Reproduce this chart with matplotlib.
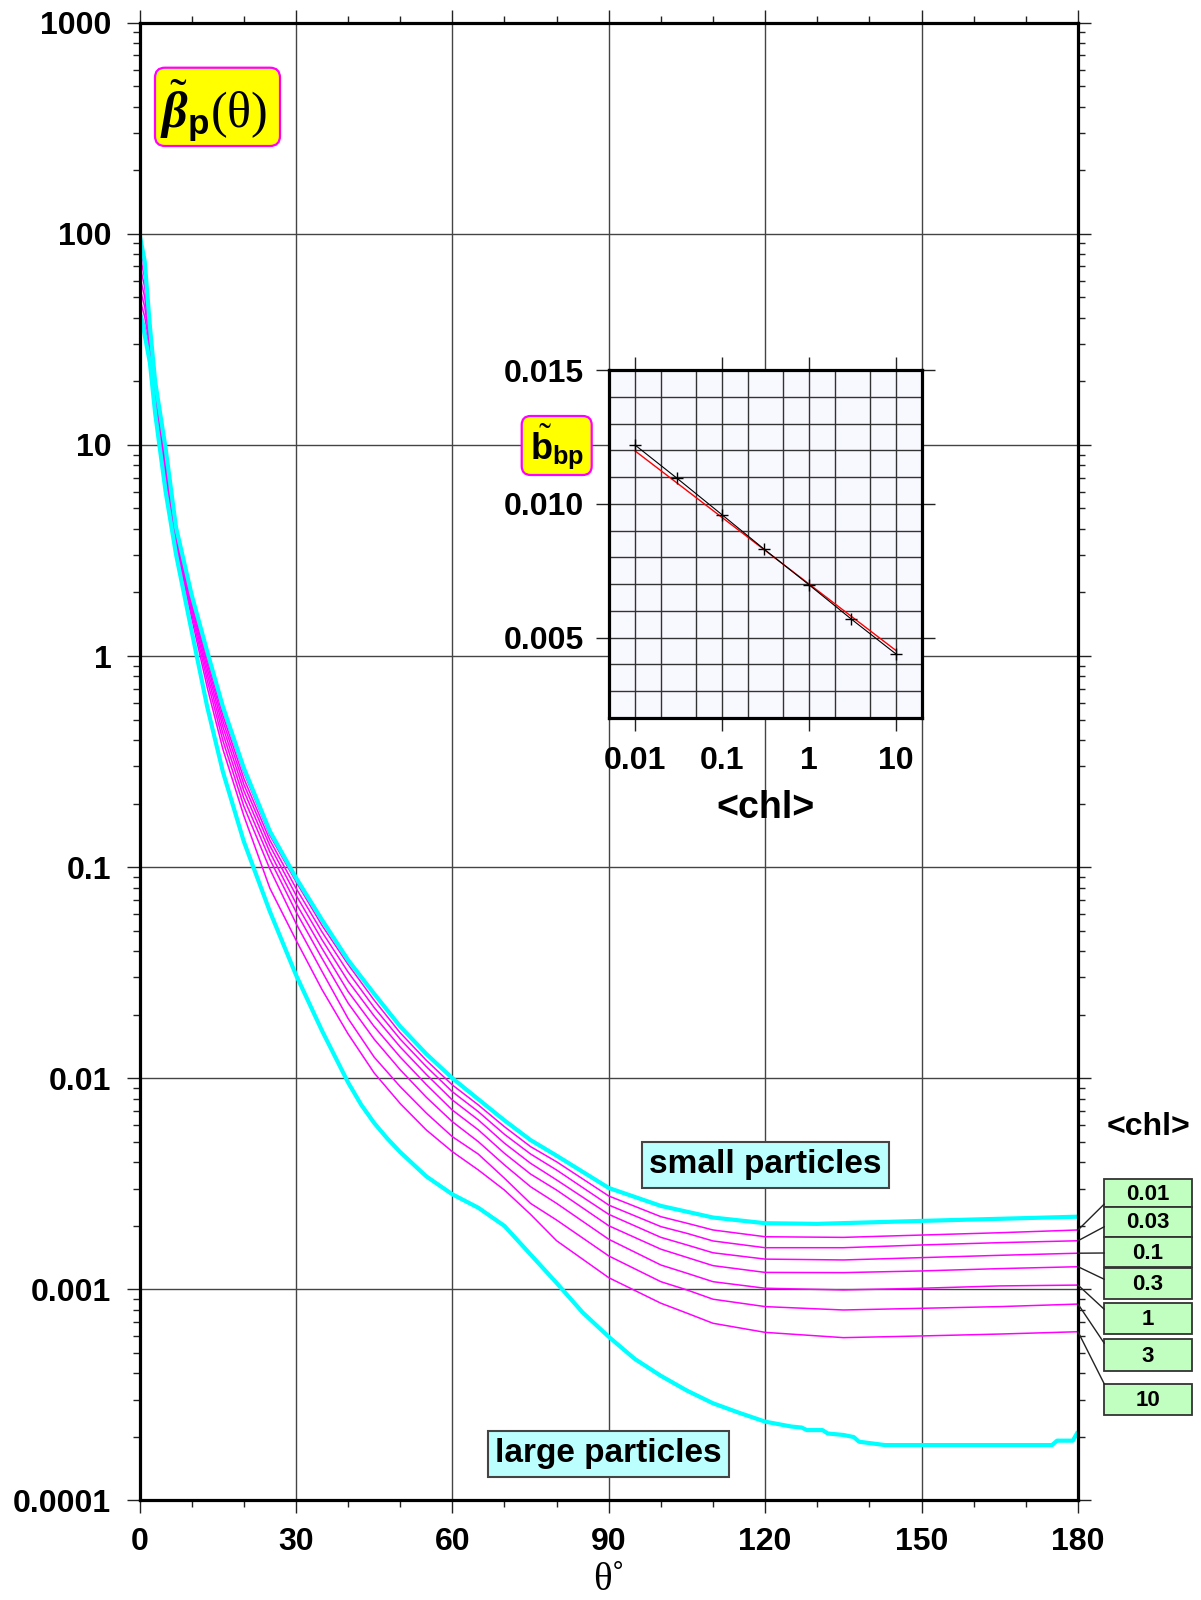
import numpy as np
import matplotlib
matplotlib.use('Agg')
import matplotlib.pyplot as plt
from matplotlib.patches import FancyBboxPatch, Rectangle
from matplotlib.ticker import FixedLocator, FixedFormatter, NullFormatter, LogLocator

plt.rcParams['font.family'] = ['Liberation Sans', 'DejaVu Sans']
plt.rcParams['font.weight'] = 'bold'
plt.rcParams['mathtext.fontset'] = 'custom'
plt.rcParams['mathtext.rm'] = 'Liberation Serif:weight=normal'
plt.rcParams['mathtext.it'] = 'Liberation Serif:italic:bold'
plt.rcParams['mathtext.bf'] = 'Liberation Sans:bold'
SERIF = ['Liberation Serif', 'DejaVu Serif']

# ---------------- data ----------------
# main plot: log10 of the normalized phase function
theta_small = [0, 1, 2, 3, 5, 7, 10, 13, 16, 20, 25, 30, 35, 40, 45, 50, 55, 60,
               65, 70, 75, 80, 90, 100, 110, 120, 130, 150, 165, 180]
log_small = [2.000, 1.870, 1.560, 1.300, 0.985, 0.610, 0.290, 0.020, -0.240, -0.530,
             -0.830, -1.050, -1.250, -1.440, -1.600, -1.755, -1.885, -2.000, -2.100,
             -2.200, -2.293, -2.367, -2.520, -2.605, -2.660, -2.687, -2.690, -2.676,
             -2.666, -2.656]

theta_large = [0, 0.5, 1, 2, 3, 5, 7, 10, 13, 16, 20, 25, 30, 35, 40, 42.5, 45, 47.5,
               50, 55, 60, 65, 70, 75, 80, 85, 90, 95, 100, 105, 110, 115, 120, 125,
               127, 128, 131, 132, 135, 137, 138, 143, 175, 176, 179, 180]
log_large = [1.625, 1.590, 1.520, 1.388, 1.150, 0.780, 0.482, 0.118, -0.242, -0.549,
             -0.878, -1.210, -1.510, -1.775, -2.020, -2.125, -2.212, -2.285, -2.350,
             -2.465, -2.550, -2.614, -2.700, -2.835, -2.970, -3.110, -3.225, -3.330,
             -3.410, -3.480, -3.540, -3.585, -3.627, -3.650, -3.655, -3.667, -3.667,
             -3.683, -3.690, -3.700, -3.722, -3.738, -3.738, -3.717, -3.717, -3.674]

theta_chl = [0, 1, 2, 3, 5, 7, 10, 13, 16, 20, 25, 30, 35, 40, 45, 50, 55, 60, 65, 70,
             75, 80, 90, 100, 105, 110, 120, 135, 150, 165, 180]
chl_labels = ['0.01', '0.03', '0.1', '0.3', '1', '3', '10']
log_chl_0_01 = [1.954, 1.834, 1.540, 1.291, 0.973, 0.602, 0.280, 0.004, -0.259, -0.551,
                -0.849, -1.068, -1.276, -1.461, -1.630, -1.785, -1.915, -2.032, -2.127,
                -2.230, -2.324, -2.396, -2.558, -2.656, -2.687, -2.719, -2.751, -2.754,
                -2.743, -2.732, -2.719]
log_chl_0_03 = [1.905, 1.791, 1.528, 1.279, 0.956, 0.592, 0.266, -0.017, -0.283, -0.579,
                -0.872, -1.099, -1.307, -1.497, -1.665, -1.815, -1.945, -2.064, -2.159,
                -2.266, -2.359, -2.435, -2.601, -2.703, -2.735, -2.771, -2.803, -2.803,
                -2.790, -2.779, -2.770]
log_chl_0_1 = [1.856, 1.748, 1.515, 1.267, 0.940, 0.582, 0.253, -0.038, -0.308, -0.607,
               -0.898, -1.132, -1.344, -1.540, -1.705, -1.852, -1.982, -2.103, -2.198,
               -2.308, -2.403, -2.482, -2.645, -2.754, -2.790, -2.827, -2.857, -2.861,
               -2.850, -2.839, -2.829]
log_chl_0_3 = [1.802, 1.701, 1.500, 1.254, 0.921, 0.570, 0.237, -0.061, -0.336, -0.638,
               -0.929, -1.171, -1.385, -1.589, -1.755, -1.900, -2.030, -2.151, -2.245,
               -2.356, -2.454, -2.530, -2.699, -2.810, -2.849, -2.888, -2.920, -2.921,
               -2.913, -2.902, -2.893]
log_chl_1 = [1.749, 1.654, 1.484, 1.239, 0.901, 0.558, 0.220, -0.087, -0.367, -0.673,
             -0.963, -1.211, -1.432, -1.644, -1.815, -1.960, -2.090, -2.206, -2.301,
             -2.411, -2.514, -2.593, -2.763, -2.885, -2.924, -2.964, -2.995, -3.003,
             -2.995, -2.984, -2.980]
log_chl_3 = [1.696, 1.607, 1.467, 1.222, 0.878, 0.543, 0.202, -0.116, -0.401, -0.711,
             -1.009, -1.266, -1.494, -1.717, -1.900, -2.040, -2.165, -2.277, -2.360,
             -2.474, -2.593, -2.672, -2.842, -2.964, -3.003, -3.047, -3.082, -3.098,
             -3.090, -3.082, -3.070]
log_chl_10 = [1.643, 1.560, 1.446, 1.203, 0.852, 0.527, 0.180, -0.150, -0.442, -0.756,
              -1.100, -1.345, -1.580, -1.790, -1.975, -2.120, -2.245, -2.348, -2.435,
              -2.530, -2.645, -2.770, -2.945, -3.066, -3.113, -3.161, -3.204, -3.229,
              -3.221, -3.212, -3.201]
log_chl_curves = [log_chl_0_01, log_chl_0_03, log_chl_0_1, log_chl_0_3,
                  log_chl_1, log_chl_3, log_chl_10]

x_ticks = [0, 30, 60, 90, 120, 150, 180]
x_ticklabels = ['0', '30', '60', '90', '120', '150', '180']
y_ticks = [1e-4, 1e-3, 1e-2, 1e-1, 1, 10, 100, 1000]
y_ticklabels = ['0.0001', '0.001', '0.01', '0.1', '1', '10', '100', '1000']

# inset: backscattering ratio vs chlorophyll
inset_chl = [0.01, 0.03, 0.1, 0.3, 1, 3, 10]
inset_bbp = [0.01220, 0.01097, 0.00959, 0.00832, 0.00697, 0.00571, 0.00438]
fit_chl = [0.01, 10]
fit_bbp = [0.01198, 0.00451]
inset_xticks = [0.01, 0.1, 1, 10]
inset_xticklabels = ['0.01', '0.1', '1', '10']
inset_xgrid = [0.02, 0.05, 0.2, 0.5, 2, 5]
inset_yticks = [0.005, 0.010, 0.015]
inset_yticklabels = ['0.005', '0.010', '0.015']
inset_ygrid = [0.003, 0.004, 0.006, 0.007, 0.008, 0.009, 0.011, 0.012, 0.013, 0.014]

# ---------------- figure ----------------
W, H = 1201, 1600
fig = plt.figure(figsize=(W / 100, H / 100), dpi=100)


def fbox(l, t, r, b):
    return [l / W, 1 - b / H, (r - l) / W, (b - t) / H]


CYAN = '#00FFFF'
MAGENTA = '#FF00FF'
GRID = '#444444'

ax = fig.add_axes(fbox(139.5, 22.7, 1078, 1500.4))
ax.set_xlim(0, 180)
ax.set_yscale('log')
ax.set_ylim(1e-4, 1e3)
ax.set_axisbelow(True)

for lc in log_chl_curves:
    ax.plot(theta_chl, 10 ** np.array(lc), color=MAGENTA, lw=1.1, zorder=3)
ax.plot(theta_small, 10 ** np.array(log_small), color=CYAN, lw=3.0, zorder=4,
        solid_capstyle='butt', solid_joinstyle='round')
ax.plot(theta_large, 10 ** np.array(log_large), color=CYAN, lw=3.0, zorder=4,
        solid_capstyle='butt', solid_joinstyle='round')

ax.xaxis.set_major_locator(FixedLocator(x_ticks))
ax.xaxis.set_major_formatter(FixedFormatter(x_ticklabels))
ax.xaxis.set_minor_locator(FixedLocator(list(range(0, 181, 10))))
ax.xaxis.set_minor_formatter(NullFormatter())
ax.yaxis.set_major_locator(FixedLocator(y_ticks))
ax.yaxis.set_major_formatter(FixedFormatter(y_ticklabels))
ax.yaxis.set_minor_locator(LogLocator(base=10, subs=np.arange(2, 10), numticks=30))
ax.yaxis.set_minor_formatter(NullFormatter())
ax.tick_params(which='major', direction='out', length=9.3, width=1.0, color='#222',
               labelsize=23, top=True, right=True)
ax.tick_params(axis='y', which='major', pad=11)
ax.tick_params(axis='x', which='major', pad=10)
ax.tick_params(which='minor', direction='out', length=4.7, width=1.0, color='#222',
               top=True, right=True)
ax.grid(which='major', color=GRID, lw=1.0)
for s in ax.spines.values():
    s.set_linewidth(2.3)
    s.set_zorder(5)

# text labels in data coordinates
ax.text(120, 10 ** -2.411, 'small particles', fontsize=24, ha='center', va='center',
        zorder=6, bbox=dict(boxstyle='square,pad=0.22', fc='#BBFFFF', ec='#444444', lw=1.5))
ax.text(90, 10 ** -3.78, 'large particles', fontsize=24, ha='center', va='center',
        zorder=6, bbox=dict(boxstyle='square,pad=0.22', fc='#BBFFFF', ec='#444444', lw=1.5))

# ---------------- inset ----------------
axi = fig.add_axes(fbox(609, 370.3, 922.3, 717.7))
axi.set_facecolor('#F8F8FF')
axi.set_xscale('log')
axi.set_xlim(0.005, 20)
axi.set_ylim(0.002, 0.015)
axi.set_axisbelow(True)
axi.plot(fit_chl, fit_bbp, color='red', lw=1.0, zorder=3)
axi.plot(inset_chl, inset_bbp, color='black', lw=0.8, marker='+', ms=9, mew=1.0, zorder=4)
axi.xaxis.set_major_locator(FixedLocator(inset_xticks))
axi.xaxis.set_major_formatter(FixedFormatter(inset_xticklabels))
axi.xaxis.set_minor_locator(FixedLocator(inset_xgrid))
axi.xaxis.set_minor_formatter(NullFormatter())
axi.yaxis.set_major_locator(FixedLocator(inset_yticks))
axi.yaxis.set_major_formatter(FixedFormatter(inset_yticklabels))
axi.yaxis.set_minor_locator(FixedLocator(inset_ygrid))
axi.yaxis.set_minor_formatter(NullFormatter())
axi.tick_params(which='major', direction='out', length=9.3, width=1.0, color='#222',
                labelsize=23, top=True, right=True)
axi.tick_params(axis='y', which='major', pad=9)
axi.tick_params(axis='x', which='major', pad=11)
axi.tick_params(which='minor', length=0)
axi.grid(which='both', color='#333333', lw=1.0)
for s in axi.spines.values():
    s.set_linewidth(2.3)

# ---------------- overlay in pixel coordinates ----------------
ov = fig.add_axes([0, 0, 1, 1], zorder=20)
ov.set_xlim(0, W)
ov.set_ylim(H, 0)
ov.axis('off')

# main title label
ov.add_patch(FancyBboxPatch((155, 67.7), 125, 78.3,
                            boxstyle='round,pad=0,rounding_size=10',
                            fc='#FFFF00', ec=MAGENTA, lw=1.6))
ov.text(160, 128, r'$\tilde{\beta}_{\mathbf{p}}\mathrm{(\theta)}$', fontsize=36,
        ha='left', va='baseline')

# inset label
ov.add_patch(FancyBboxPatch((521.7, 416), 70, 59,
                            boxstyle='round,pad=0,rounding_size=9',
                            fc='#FFFF00', ec=MAGENTA, lw=1.6))
ov.text(530.5, 460, r'$\tilde{\mathbf{b}}_{\mathbf{bp}}$', fontsize=26,
        ha='left', va='baseline')

# inset x label
ov.text(765.7, 818, '<chl>', fontsize=27, weight='bold', ha='center', va='baseline')

# main x label
ov.text(609, 1599, 'θ˚', family=SERIF, weight='normal', fontsize=28,
        ha='center', va='bottom')

# chlorophyll legend on the right
ov.text(1148, 1135, '<chl>', fontsize=23, weight='bold', ha='center', va='baseline')
box_tops = [1179.3, 1207.3, 1237.3, 1268.3, 1302.7, 1339.3, 1384.0]
box_bottoms = [1207.3, 1236.7, 1267.3, 1299.3, 1334.0, 1371.0, 1415.0]
conn_y = [1204.0, 1226.7, 1253.0, 1279.3, 1309.3, 1343.3, 1384.0]
bx0, bx1 = 1104.3, 1191.7
for lab, t, b, cy, lc in zip(chl_labels, box_tops, box_bottoms, conn_y, log_chl_curves):
    ov.add_patch(Rectangle((bx0, t), bx1 - bx0, b - t, fc='#C0FFC0', ec='#333333', lw=1.3))
    ov.text((bx0 + bx1) / 2, (t + b) / 2 + 1, lab, fontsize=16, weight='bold',
            ha='center', va='center')
    ov.annotate('', xy=(bx0, cy), xycoords='data',
                xytext=(180, 10 ** lc[-1]), textcoords=ax.transData,
                arrowprops=dict(arrowstyle='-', color='#222222', lw=1.0,
                                shrinkA=0, shrinkB=0),
                annotation_clip=False)

fig.savefig('out.png', dpi=100)
